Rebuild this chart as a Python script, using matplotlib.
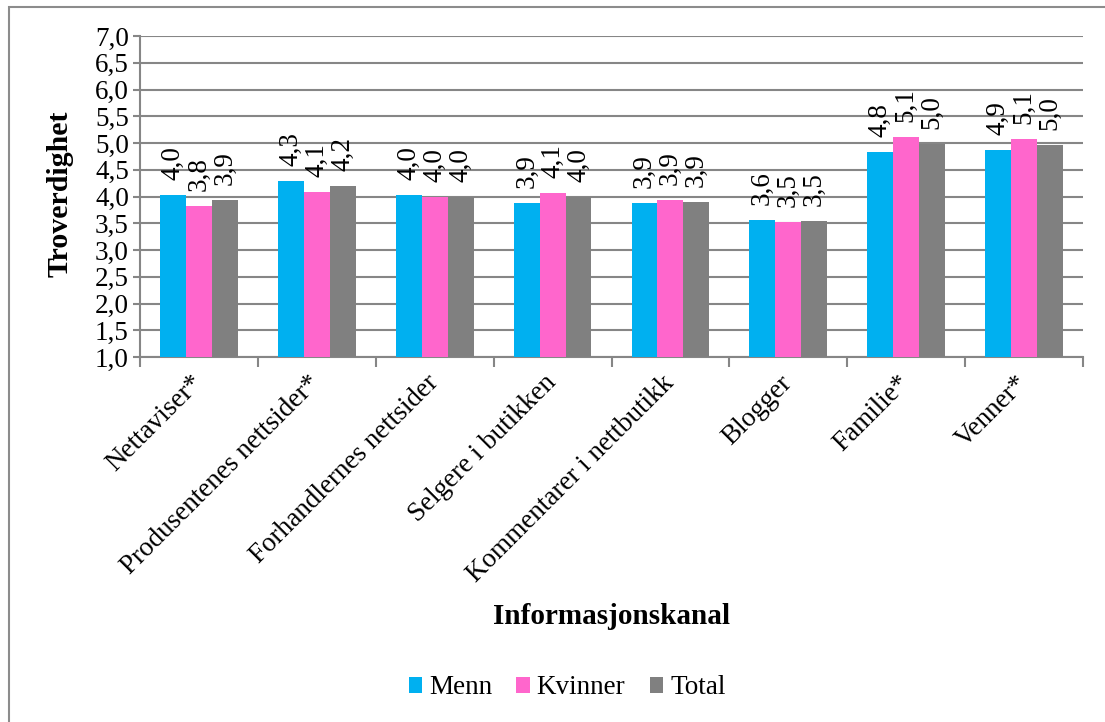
import numpy as np
import matplotlib
matplotlib.use("Agg")
import matplotlib.pyplot as plt
from matplotlib.patches import Rectangle
from matplotlib.ticker import FuncFormatter, FixedLocator

plt.rcParams['font.family'] = ['Liberation Serif', 'DejaVu Serif']

kanaler = ["Nettaviser*", "Produsentenes nettsider*", "Forhandlernes nettsider",
           "Selgere i butikken", "Kommentarer i nettbutikk", "Blogger",
           "Familie*", "Venner*"]
menn = [4.03, 4.29, 4.03, 3.88, 3.88, 3.56, 4.83, 4.86]
kvinner = [3.82, 4.08, 3.99, 4.06, 3.93, 3.52, 5.11, 5.07]
total = [3.93, 4.20, 3.99, 3.99, 3.90, 3.54, 4.98, 4.96]
serier = ["Menn", "Kvinner", "Total"]
farger = ["#00B0F0", "#FF66CC", "#808080"]

grid_col = "#868686"

fig = plt.figure(figsize=(11.05, 7.22), dpi=100)
ax = fig.add_axes([140/1105, 1-357/722, (1083-140)/1105, (357-36)/722])

x = np.arange(len(kanaler))
w = 0.22
for i, (navn, verdier, farge) in enumerate(zip(serier, [menn, kvinner, total], farger)):
    pos = x + (i - 1) * w
    ax.bar(pos, verdier, width=w, color=farge, label=navn, zorder=3)
    for px, v in zip(pos, verdier):
        ax.annotate(f"{v:.1f}".replace('.', ','), (px, v), xytext=(0, 11),
                    textcoords='offset points', rotation=90, ha='center',
                    va='bottom', fontsize=19.5)

ax.set_ylim(1.0, 7.0)
ax.set_xlim(-0.5, len(kanaler) - 0.5)
ax.set_yticks(np.arange(1.0, 7.01, 0.5))
ax.yaxis.set_major_formatter(FuncFormatter(lambda v, p: f"{v:.1f}".replace('.', ',')))
ax.yaxis.grid(True, color=grid_col, lw=1.5, zorder=0)
ax.set_axisbelow(True)

# category names centred between the boundary ticks
ax.xaxis.set_major_locator(FixedLocator(np.arange(-0.5, len(kanaler), 1.0)))
ax.set_xticklabels([])
ax.tick_params(axis='x', length=7, width=1.5, color=grid_col)
ax.tick_params(axis='y', length=5, width=1.5, color=grid_col, labelsize=19.5, pad=3)
for i, navn in enumerate(kanaler):
    ax.annotate(navn, (i, 1.0), xytext=(0, -16), textcoords='offset points',
                rotation=45, rotation_mode='anchor', ha='right', va='center',
                fontsize=19.5, annotation_clip=False)

for s in ['top', 'right']:
    ax.spines[s].set_visible(False)
for s in ['left', 'bottom']:
    ax.spines[s].set_color(grid_col)
    ax.spines[s].set_linewidth(1.5)

fig.text(60/1105, 1-194/722, "Troverdighet", rotation=90, ha='center', va='center',
         fontsize=21.5, fontweight='bold')
fig.text(612/1105, 1-617/722, "Informasjonskanal", ha='center', va='center',
         fontsize=21, fontweight='bold')

fig.legend(loc='center', bbox_to_anchor=(567/1105, 1-688/722), ncol=3, frameon=False,
           fontsize=19.5, handlelength=0.5, handleheight=0.5, handletextpad=0.25,
           columnspacing=0.9)

fig.patches.append(Rectangle((9/1105, -0.1), 1.2, 1.1 - 7/722, transform=fig.transFigure,
                             fill=False, edgecolor="#8c8c8c", lw=1.5))

fig.savefig("out.png", dpi=100)
